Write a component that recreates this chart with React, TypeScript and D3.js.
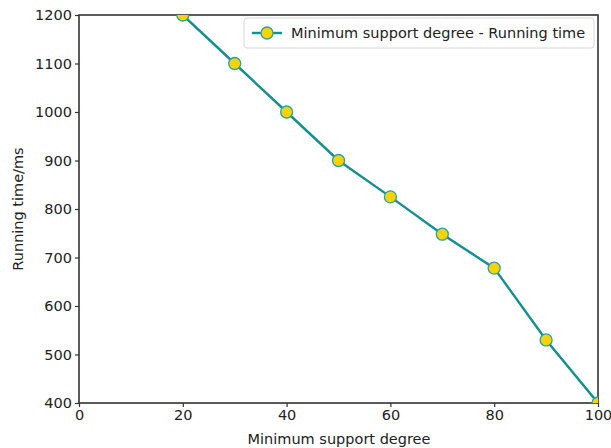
import React, { useEffect, useRef } from 'react';
import * as d3 from 'd3';

// values
const supportDegree = [20, 30, 40, 50, 60, 70, 80, 90, 100];
const runningTime = [1200, 1100, 1000, 900, 825, 748, 678, 530, 400];
const xTicks = [0, 20, 40, 60, 80, 100];
const yTicks = [400, 500, 600, 700, 800, 900, 1000, 1100, 1200];
const legendLabel = 'Minimum support degree - Running time';

const W = 611;
const H = 448;

export default function App() {
  const ref = useRef<SVGSVGElement>(null);

  useEffect(() => {
    const svg = d3.select(ref.current);
    svg.selectAll('*').remove();

    const margin = { top: 15, right: 13, bottom: 45, left: 79 };
    const font = 'DejaVu Sans, sans-serif';
    const fontSize = '14.5px';
    const axisColor = '#333';

    const x = d3.scaleLinear().domain([0, 100]).range([margin.left, W - margin.right]);
    const y = d3.scaleLinear().domain([400, 1200]).range([H - margin.bottom, margin.top]);

    svg.append('rect').attr('width', W).attr('height', H).attr('fill', 'white');

    svg.append('defs').append('clipPath').attr('id', 'plotclip')
      .append('rect')
      .attr('x', margin.left).attr('y', margin.top)
      .attr('width', W - margin.left - margin.right)
      .attr('height', H - margin.top - margin.bottom);

    // axes
    const xAxis = svg.append('g')
      .attr('transform', `translate(0,${H - margin.bottom})`)
      .call(d3.axisBottom(x).tickValues(xTicks).tickFormat(d3.format('d')).tickSize(4).tickPadding(3).tickSizeOuter(0));
    const yAxis = svg.append('g')
      .attr('transform', `translate(${margin.left},0)`)
      .call(d3.axisLeft(y).tickValues(yTicks).tickFormat(d3.format('d')).tickSize(4).tickPadding(3).tickSizeOuter(0));

    [xAxis, yAxis].forEach((g) => {
      g.select('.domain').remove();
      g.selectAll('line').attr('stroke', axisColor).attr('stroke-width', 1.2);
      g.selectAll('text').attr('fill', '#222').style('font-family', font).style('font-size', fontSize);
    });

    // frame
    svg.append('rect')
      .attr('x', margin.left).attr('y', margin.top)
      .attr('width', W - margin.left - margin.right)
      .attr('height', H - margin.top - margin.bottom)
      .attr('fill', 'none').attr('stroke', axisColor).attr('stroke-width', 1.6);

    // line + markers
    const pts = supportDegree.map((d, i) => ({ x: d, y: runningTime[i] }));
    const plot = svg.append('g').attr('clip-path', 'url(#plotclip)');
    plot.append('path')
      .datum(pts)
      .attr('d', d3.line<{ x: number; y: number }>().x((d) => x(d.x)).y((d) => y(d.y)))
      .attr('fill', 'none').attr('stroke', '#138f8f').attr('stroke-width', 2.4);
    plot.selectAll('circle.pt')
      .data(pts)
      .enter()
      .append('circle')
      .attr('class', 'pt')
      .attr('cx', (d) => x(d.x))
      .attr('cy', (d) => y(d.y))
      .attr('r', 6)
      .attr('fill', '#f7d308')
      .attr('stroke', '#2aa3a3')
      .attr('stroke-width', 1.3);

    // labels
    svg.append('text')
      .attr('x', 339)
      .attr('y', 444)
      .attr('text-anchor', 'middle')
      .style('font-family', font).style('font-size', fontSize).attr('fill', '#222')
      .text('Minimum support degree');
    svg.append('text')
      .attr('transform', `translate(23,${(margin.top + H - margin.bottom) / 2}) rotate(-90)`)
      .attr('text-anchor', 'middle')
      .style('font-family', font).style('font-size', fontSize).attr('fill', '#222')
      .text('Running time/ms');

    // legend
    const lg = svg.append('g').attr('transform', 'translate(244,18)');
    lg.append('rect')
      .attr('width', 350).attr('height', 30).attr('rx', 3)
      .attr('fill', 'white').attr('stroke', '#d8d8d8');
    lg.append('line')
      .attr('x1', 8).attr('x2', 38).attr('y1', 15).attr('y2', 15)
      .attr('stroke', '#138f8f').attr('stroke-width', 2.4);
    lg.append('circle')
      .attr('cx', 23).attr('cy', 15).attr('r', 6)
      .attr('fill', '#f7d308').attr('stroke', '#2aa3a3').attr('stroke-width', 1.3);
    lg.append('text')
      .attr('x', 47).attr('y', 20)
      .style('font-family', font).style('font-size', fontSize).attr('fill', '#222')
      .text(legendLabel);
  }, []);

  return (
    <svg ref={ref} width={W} height={H} style={{ display: 'block', position: 'absolute', left: 0, top: 0 }} />
  );
}
